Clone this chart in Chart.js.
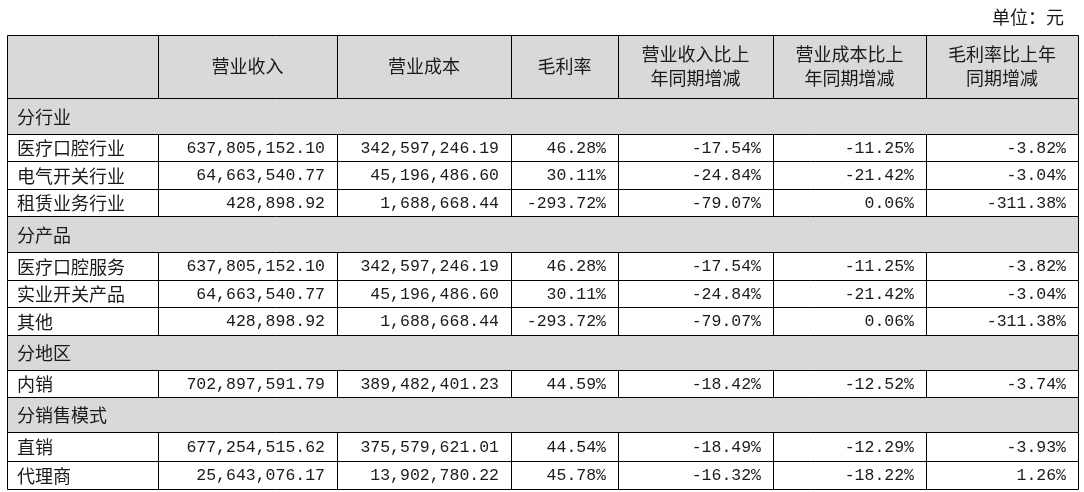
<!DOCTYPE html><html><head><meta charset="utf-8"><script src="https://cdn.jsdelivr.net/npm/chart.js@4"></script>
<style>html,body{margin:0;background:#fff}#w{width:1084px;height:492px}</style></head><body><div id="w"><canvas id="c"></canvas></div>
<script>
const headers=["","营业收入","营业成本","毛利率","营业收入比上\n年同期增减","营业成本比上\n年同期增减","毛利率比上年\n同期增减"];
const rowLabels=["分行业","医疗口腔行业","电气开关行业","租赁业务行业","分产品","医疗口腔服务","实业开关产品","其他","分地区","内销","分销售模式","直销","代理商"];
const revenue=["","637,805,152.10","64,663,540.77","428,898.92","","637,805,152.10","64,663,540.77","428,898.92","","702,897,591.79","","677,254,515.62","25,643,076.17"];
const cost=["","342,597,246.19","45,196,486.60","1,688,668.44","","342,597,246.19","45,196,486.60","1,688,668.44","","389,482,401.23","","375,579,621.01","13,902,780.22"];
const margin=["","46.28%","30.11%","-293.72%","","46.28%","30.11%","-293.72%","","44.59%","","44.54%","45.78%"];
const revChg=["","-17.54%","-24.84%","-79.07%","","-17.54%","-24.84%","-79.07%","","-18.42%","","-18.49%","-16.32%"];
const costChg=["","-11.25%","-21.42%","0.06%","","-11.25%","-21.42%","0.06%","","-12.52%","","-12.29%","-18.22%"];
const marginChg=["","-3.82%","-3.04%","-311.38%","","-3.82%","-3.04%","-311.38%","","-3.74%","","-3.93%","1.26%"];
const sectionRows=[0,4,8,10];
const colEdges=[0,151,330,504,611,766,919,1071];
const rowEdges=[0,63,99,126,154,181,217,245,272,300,335,362,397,426,454];
const cols=[rowLabels,revenue,cost,margin,revChg,costChg,marginChg];
const plugin={id:'tbl',afterDraw(ch){
 const c=ch.ctx,x=ch.scales.x,y=ch.scales.y;
 const X=v=>Math.round(x.getPixelForValue(v))+0.5,Y=v=>Math.round(y.getPixelForValue(v))+0.5;
 c.save();
 c.fillStyle='#d9d9d9';
 c.fillRect(X(0),Y(0),X(1071)-X(0),Y(63)-Y(0));
 sectionRows.forEach(r=>c.fillRect(X(0),Y(rowEdges[r+1]),X(1071)-X(0),Y(rowEdges[r+2])-Y(rowEdges[r+1])));
 c.strokeStyle='#000';c.lineWidth=1;c.beginPath();
 rowEdges.forEach(v=>{c.moveTo(X(0),Y(v));c.lineTo(X(1071),Y(v));});
 colEdges.forEach((v,i)=>{
  for(let r=-1;r<13;r++){
   if(r>=0&&sectionRows.includes(r)&&i>0&&i<colEdges.length-1)continue;
   const a=r<0?0:rowEdges[r+1],b=r<0?63:rowEdges[r+2];
   c.moveTo(X(v),Y(a));c.lineTo(X(v),Y(b));
  }
 });
 c.stroke();
 const cjk='18px "Noto Sans CJK SC"',num='16.5px "Liberation Mono"';
 c.fillStyle='#1a1a1a';c.font=cjk;c.textBaseline='middle';
 headers.forEach((h,i)=>{if(!h)return;const ls=h.split('\n');c.textAlign='center';
  const cx=(x.getPixelForValue(colEdges[i])+x.getPixelForValue(colEdges[i+1]))/2,cy=y.getPixelForValue(31.5);
  ls.forEach((l,k)=>c.fillText(l,cx,cy+(k-(ls.length-1)/2)*24));});
 for(let r=0;r<13;r++){const cy=(y.getPixelForValue(rowEdges[r+1])+y.getPixelForValue(rowEdges[r+2]))/2+1;
  cols.forEach((col,i)=>{const t=col[r];if(!t)return;
   if(i==0){c.font=cjk;c.textAlign='left';c.fillText(t,x.getPixelForValue(0)+10,cy);}
   else{c.font=num;c.textAlign='right';c.fillText(t,x.getPixelForValue(colEdges[i+1])-12,cy);}});}
 c.font=cjk;c.textAlign='right';c.fillText('单位：元',x.getPixelForValue(1071)-14,17);
 c.restore();}};
new Chart(document.getElementById('c'),{type:'scatter',data:{datasets:[{data:[]}]},
 options:{responsive:true,maintainAspectRatio:false,animation:false,layout:{padding:{left:7,right:6,top:35,bottom:3}},
 plugins:{legend:{display:false},tooltip:{enabled:false}},
 scales:{x:{type:'linear',min:0,max:1071,display:false},y:{type:'linear',min:0,max:454,reverse:true,display:false}}},plugins:[plugin]});
</script></body></html>
